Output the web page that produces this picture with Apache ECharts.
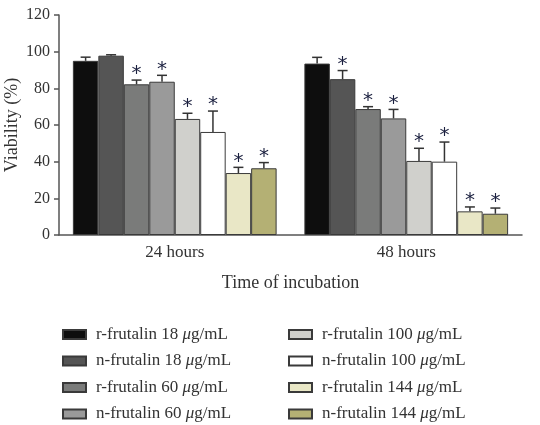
<!DOCTYPE html>
<html>
<head>
<meta charset="utf-8">
<script src="https://cdn.jsdelivr.net/npm/echarts@6/dist/echarts.min.js"></script>
<style>
  html, body { margin: 0; padding: 0; background: #fff; }
  #main { width: 540px; height: 425px; }
</style>
</head>
<body>
<div id="main"></div>
<script>
var categories = ['24 hours', '48 hours'];
var seriesNames = [
  'r-frutalin 18', 'n-frutalin 18', 'r-frutalin 60', 'n-frutalin 60',
  'r-frutalin 100', 'n-frutalin 100', 'r-frutalin 144', 'n-frutalin 144'
];
// mean viability (%) per series, [24 h, 48 h]
var rFru18 = [95.0, 93.5];
var nFru18 = [97.8, 85.0];
var rFru60 = [82.2, 68.7];
var nFru60 = [83.6, 63.6];
var rFru100 = [63.3, 40.4];
var nFru100 = [56.2, 40.0];
var rFru144 = [33.8, 12.9];
var nFru144 = [36.4, 11.6];
// upper error (SD) per series, [24 h, 48 h]
var sdR18 = [2.0, 3.4];
var sdN18 = [0.5, 4.7];
var sdR60 = [2.3, 1.3];
var sdN60 = [3.5, 4.9];
var sdR100 = [3.1, 6.9];
var sdN100 = [11.4, 10.7];
var sdR144 = [3.1, 2.4];
var sdN144 = [3.1, 3.1];
// significance star per series, [24 h, 48 h]
var starFlags = [[0, 0], [0, 1], [1, 1], [1, 1], [1, 1], [1, 1], [1, 1], [1, 1]];
var yTicks = [0, 20, 40, 60, 80, 100, 120];

var means = [rFru18, nFru18, rFru60, nFru60, rFru100, nFru100, rFru144, nFru144];
var sds = [sdR18, sdN18, sdR60, sdN60, sdR100, sdN100, sdR144, sdN144];
var colors = ['#0e0e0e', '#555555', '#7a7b7a', '#9a9a9a', '#d0d0cc', '#ffffff', '#e9e7c6', '#b4b074'];

var FONT = '"Liberation Serif", "DejaVu Serif", serif';
var GAP = 0.12;

var errData = [];
for (var s = 0; s < means.length; s++) {
  for (var c = 0; c < categories.length; c++) {
    errData.push([c, s, means[s][c], means[s][c] + sds[s][c], starFlags[s][c]]);
  }
}

function renderErr(params, api) {
  var cat = api.value(0), k = api.value(1);
  var band = api.size([1, 0])[0];
  var groupW = band * (1 - GAP);
  var bw = groupW / means.length;
  var base = api.coord([cat, api.value(2)]);
  var x = base[0] - groupW / 2 + bw * (k + 0.5);
  var yTop = api.coord([cat, api.value(3)])[1];
  var st = { stroke: '#333', lineWidth: 1.5 };
  var kids = [
    { type: 'line', shape: { x1: x, y1: base[1], x2: x, y2: yTop }, style: st },
    { type: 'line', shape: { x1: x - 5, y1: yTop, x2: x + 5, y2: yTop }, style: st }
  ];
  if (api.value(4)) {
    kids.push({
      type: 'text',
      style: {
        x: x, y: yTop - 6, text: '*', align: 'center', verticalAlign: 'middle',
        fill: '#1c2140', font: '20px "DejaVu Sans", sans-serif'
      }
    });
  }
  return { type: 'group', children: kids };
}

var barSeries = seriesNames.map(function (n, i) {
  return {
    name: n,
    type: 'bar',
    data: means[i],
    barGap: 0,
    barCategoryGap: (GAP * 100) + '%',
    itemStyle: { color: colors[i], borderColor: '#3a3a3a', borderWidth: 1 },
    silent: true
  };
});

function legendFmt(name) {
  var parts = name.split(' ');
  return '{a|' + parts[0] + ' ' + parts[1] + ' }{i|\u03bc}{a|g/mL}';
}
var legendText = {
  fontFamily: FONT, fontSize: 17, color: '#333', lineHeight: 16,
  padding: [0, 0, 0, 5],
  rich: {
    a: { fontFamily: FONT, fontSize: 17, color: '#333', lineHeight: 16 },
    i: { fontFamily: FONT, fontSize: 17, color: '#333', lineHeight: 16, fontStyle: 'italic' }
  }
};

var chart = echarts.init(document.getElementById('main'));
chart.setOption({
  animation: false,
  backgroundColor: '#fff',
  grid: { left: 59, right: 18, top: 15, bottom: 190, outerBoundsMode: 'none' },
  legend: [
    {
      data: seriesNames.slice(0, 4), orient: 'vertical', left: 62, top: 326,
      padding: 0, height: 110,
      itemWidth: 23, itemHeight: 9, itemGap: 9.5, icon: 'rect',
      formatter: legendFmt, textStyle: legendText, selectedMode: false
    },
    {
      data: seriesNames.slice(4), orient: 'vertical', left: 288, top: 326,
      padding: 0, height: 110,
      itemWidth: 23, itemHeight: 9, itemGap: 9.5, icon: 'rect',
      formatter: legendFmt, textStyle: legendText, selectedMode: false
    }
  ],
  xAxis: {
    type: 'category',
    data: categories,
    name: 'Time of incubation',
    nameLocation: 'middle',
    nameGap: 39,
    nameMoveOverlap: false,
    nameTextStyle: { fontFamily: FONT, fontSize: 18, color: '#333' },
    axisLine: { lineStyle: { color: '#555', width: 1.5 } },
    axisTick: { show: false },
    axisLabel: { fontFamily: FONT, fontSize: 17, color: '#333', margin: 9 }
  },
  yAxis: {
    type: 'value',
    min: yTicks[0],
    max: yTicks[yTicks.length - 1],
    interval: 20,
    name: 'Viability (%)',
    nameLocation: 'middle',
    nameGap: 38,
    nameMoveOverlap: false,
    nameTextStyle: { fontFamily: FONT, fontSize: 18, color: '#333' },
    axisLine: { show: true, lineStyle: { color: '#555', width: 1.5 } },
    axisTick: { show: true, length: 5, lineStyle: { color: '#555', width: 1.5 } },
    splitLine: { show: false },
    axisLabel: { fontFamily: FONT, fontSize: 16, color: '#333', margin: 9 }
  },
  series: barSeries.concat([{
    type: 'custom',
    renderItem: renderErr,
    data: errData,
    encode: { x: 0, y: 3 },
    z: 5,
    silent: true
  }])
});
</script>
</body>
</html>
